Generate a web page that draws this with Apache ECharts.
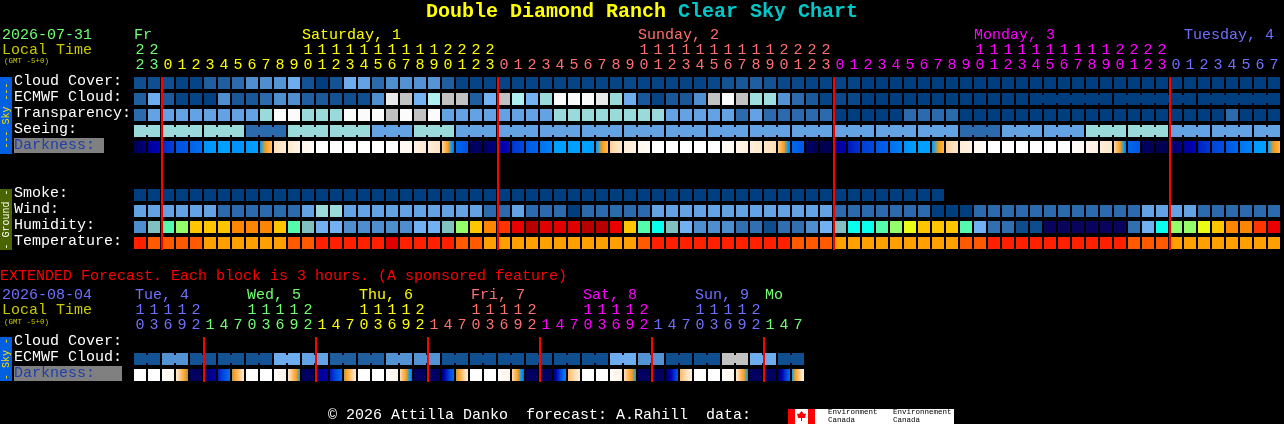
<!DOCTYPE html>
<html><head><meta charset="utf-8">
<style>html,body{margin:0;padding:0;background:#000}#c{width:1284px;height:424px}</style>
<script src="https://cdn.jsdelivr.net/npm/echarts@6/dist/echarts.min.js"></script>
</head><body><div id="c"></div>
<script>
// ---------- hourly forecast data (cloud-like rows in percent) ----------
const hourOnes = [2,3,0,1,2,3,4,5,6,7,8,9,0,1,2,3,4,5,6,7,8,9,0,1,2,3,0,1,2,3,4,5,6,7,8,9,0,1,2,3,4,5,6,7,8,9,0,1,2,3,0,1,2,3,4,5,6,7,8,9,0,1,2,3,4,5,6,7,8,9,0,1,2,3,0,1,2,3,4,5,6,7];
const hourTens = [2,2,'','','','','','','','','',''  ,1,1,1,1,1,1,1,1,1,1,2,2,2,2,'','','','','','','','','','',1,1,1,1,1,1,1,1,1,1,2,2,2,2,'','','','','','','','','','',1,1,1,1,1,1,1,1,1,1,2,2,2,2,'','','','','','','',''];
const rowNames = ['Cloud Cover:','ECMWF Cloud:','Transparency:','Seeing:','Darkness:','','','Smoke:','Wind:','Humidity:','Temperature:'];
const cloudCover = [8,8,8,3,3,15,15,20,30,30,33,45,10,0,10,45,40,20,30,32,32,
  33,15,3,3,3,3,3,3,3,3,3,3,3,3,5,3,3,3,3,3,5,10,12,15,10,5,5,3,3,3,3,
  0,0,0,0,0,0,0,0,0,0,0,0,0,0,0,0,0,0,0,0,0,0,0,0,0,0,0,0,0,0];
const ecmwfCloud = [15,45,13,3,3,1,30,12,12,20,30,30,15,13,10,8,8,30,90,80,48,
  70,80,80,15,48,80,70,48,60,98,97,98,90,60,45,12,3,12,12,30,80,98,80,62,62,32,20,13,3,5,5,
  0,0,0,0,0,0,0,0,0,0,0,0,0,0,0,0,0,0,0,0,0,0,0,0,0,0,0,0,0,0];
const ecmwfJoinFrom = 64;
const ecmwfBreakAfter = [69,75];
const transparency = [20,40,40,40,40,40,40,40,40,60,98,98,60,60,60,98,98,98,80,98,80,
  98,40,40,40,40,40,40,40,40,60,60,60,60,60,60,60,60,40,40,40,40,40,20,40,20,20,20,20,20,0,0,
  0,0,0,20,20,20,20,0,0,0,0,0,0,0,0,0,0,0,0,0,0,0,0,0,0,0,20,0,0,0];
const seeingBlockHours = [2,3,3,3,3,3,3,3,3,3,3,3,3,3,3,3,3,3,3,3,3,3,3,3,3,3,3,2];
const seeingBlockValues = [60,60,60,20,60,60,40,60,40,40,40,40,40,40,40,40,40,40,40,40,20,40,40,60,60,40,40,40];
const darkFrom = [9.2,8.3,7.3,6.6,6.3,5.3,5,5.3,5.2,5.1,2,1.5,.7,0,0,0,0,0,0,.4,1,
  1.2,2.2,6.2,9,9,8.2,7.2,6.5,6,5,5,5,5.1,2.4,1.3,.6,0,0,0,0,0,.3,.8,1.2,1.6,2.4,6.2,9,9.3,8.3,7.6,
  7,6.5,6,5.3,5,5.1,2.4,1.3,.6,0,0,0,0,0,0,.3,.8,1.2,2.2,6.2,9,9.3,8.9,8.2,7.5,6.9,6.5,5.9,5.1,5];
const darkTo = [8.6,7.9,7,6.5,6,5.1,5,5.2,5,2.7,1.2,.8,.3,0,0,0,0,0,0,.6,1.5,
  1.8,5.8,6.6,9,8.6,7.8,6.8,6.2,5.6,5,5,5,3,1.5,1,.3,0,0,0,0,0,.5,1.1,1.5,2,5.6,6.5,9.2,9.3,8,7.2,
  6.8,6.3,5.7,5,5,3.2,1.6,1,.3,0,0,0,0,0,0,.5,1.1,1.6,5.6,6.5,9.2,9.3,8.5,7.9,7.1,6.7,6.2,5.6,5,3];
const smoke = [0,0,0,0,0,0,0,0,0,0,0,0,0,0,0,0,0,0,0,0,0,0,0,0,0,0,0,0,0,0,0,0,0,0,0,0,0,0,0,0,0,0,0,0,0,0,0,0,0,0,0,0,0,0,0,0,0,0];
const wind = [40,40,40,40,40,40,20,20,20,20,20,20,40,60,60,40,40,40,40,40,40,
  40,40,40,40,20,20,40,20,20,20,0,20,20,20,20,20,40,40,40,40,40,40,40,40,40,40,40,40,40,20,20,
  20,20,20,20,20,0,0,0,20,20,20,20,20,20,20,20,20,20,20,20,40,40,40,40,20,20,20,20,20,20];
const humidity = [37,47,57,62,72,72,72,77,77,77,72,57,47,42,42,37,37,37,37,37,42,
  42,47,62,72,77,82,87,92,97,97,97,92,92,87,72,57,52,47,42,37,37,37,32,32,27,32,32,37,42,47,52,
  52,57,62,67,72,72,72,57,42,32,32,27,27,22,22,22,22,22,22,32,42,52,62,62,67,72,77,77,82,87];
const temperature = [27,22,22,22,22,17,17,17,17,17,17,22,22,27,27,27,27,27,32,27,27,
  27,27,22,22,17,17,17,17,17,17,17,17,17,17,17,22,27,27,27,27,27,27,27,27,27,27,22,22,22,17,17,
  17,17,17,17,17,17,17,22,22,27,27,27,27,27,27,27,27,27,27,22,22,22,17,17,17,17,17,17,17,17];
const hourMidnights = [2,26,50,74];

// ---------- extended forecast data (3-hour blocks) ----------
const extOnes = [0,3,6,9,2,1,4,7,0,3,6,9,2,1,4,7,0,3,6,9,2,1,4,7,0,3,6,9,2,1,4,7,0,3,6,9,2,1,4,7,0,3,6,9,2,1,4,7];
const extTens = [1,1,1,1,2,'','','',1,1,1,1,2,'','','',1,1,1,1,2,'','','',1,1,1,1,2,'','','',1,1,1,1,2,'','','',1,1,1,1,2,'','',''];
const extRowNames = ['Cloud Cover:','ECMWF Cloud:','Darkness:'];
const extCloudPairs = [10,32,10,10,10,45,40,15,15,32,32,10,8,8,8,8,8,45,32,8,8,80,45,8];
const extDarkFrom = [0,0,0,1.5,9,9,7.5,4.4,0,0,0,1.5,9,8.5,7.6,4.4,0,0,0,2,9,9,8.5,4.4,0,0,0,2,9,9,8.5,3,0,0,0,2,9,9,9,3,0,0,0,1.5,9,9,9,5];
const extDarkTo   = [0,0,.8,4.6,9,8,6,1.5,0,0,1,5,9,8,6,1.4,0,0,1,5.8,9,9,6,1.2,0,0,1,6,9,9,5.5,1.2,0,0,1.2,5,9,9,6.5,1,0,0,.8,5.2,9,9,6,1];
const extMidnights = [5,13,21,29,37,45];

// ---------- text ----------
const titleMain = 'Double Diamond Ranch';
const titleSub = 'Clear Sky Chart';
const dayNames = ['Fr','Saturday, 1','Sunday, 2','Monday, 3','Tuesday, 4'];
const dayCols = [0,12,36,60,75];
const extDayNames = ['Tue, 4','Wed, 5','Thu, 6','Fri, 7','Sat, 8','Sun, 9','Mo'];
const extDayCols = [0,8,16,24,32,40,45];
const startDate = '2026-07-31';
const extDate = '2026-08-04';
const localTime = 'Local Time';
const gmt = '(GMT -5+0)';
const extNote = 'EXTENDED Forecast. Each block is 3 hours. (A sponsored feature)';
const footer = '\u00a9 2026 Attilla Danko  forecast: A.Rahill  data:';

// ---------- palettes ----------
const cloudPalette = ['#003F7F','#135393','#2B6BAD','#4F8FCF','#63A3E3','#77B7F7','#9ADADA','#AEEEEE','#C2C2C2','#EAEAEA','#FFFFFF'];
const darkPalette = ['#ffffff','#fff2e2','#ffdfb8','#ffb860','#ff9a10','#00a0ff','#0070f0','#0040d8','#0000b0','#000060','#000030'];
const humidityPalette = ['#08035D','#0D4D8D','#3070B0','#4E8ECE','#71B1F1','#80C0C0','#09FEED','#55FAAD','#94FE6A','#EAFB16','#FEC600','#FC8602','#FE3401','#EA0000','#B70000','#E10000'];
const tempPalette = ['#FFA000','#FF5A00','#FF2000','#E00000'];
const dayColor = {fr:'#70ff70',sa:'#ffff00',su:'#ff7070',mo:'#ff00ff',tu:'#7070ff'};

// ---------- layout ----------
const FONT = '"Liberation Mono"';
const CW = 14, RH = 16, LEFT = 133;
const TOP1 = 75, TOP2 = 335;
const lerp = echarts.color.lerp;
const cloudColor = v => lerp(v/100, cloudPalette);
const humColor = v => humidityPalette[Math.floor((v-20)/5)];
const tempColor = v => tempPalette[Math.floor((v-15)/5)];

function cellRender(colorOf, gradient){
  return function(params, api){
    const c = api.value(0), r = api.value(1);
    const p = api.coord([c, r]);
    const sz = api.size([1, 1]);
    const w = sz[0]-2, h = sz[1]-4;
    let fill;
    if (gradient){
      const a = api.value(2), b = api.value(3), stops = [];
      for (let i=0;i<=8;i++){ stops.push({offset:i/8, color:lerp((a+(b-a)*i/8)/10, darkPalette)}); }
      fill = new echarts.graphic.LinearGradient(0,0,1,0,stops);
    } else fill = colorOf(api.value(2));
    const kids = [{type:'rect',shape:{x:p[0]-w/2,y:p[1]-h/2,width:w,height:h},style:{fill}}];
    if (!gradient && api.value(3)) kids.push({type:'rect',shape:{x:p[0]+w/2,y:p[1]-h/2+2,width:sz[0]-w,height:h-4},style:{fill}});
    return {type:'group',children:kids};
  };
}
function cells(name, xi, row, vals, colorOf, joinFn){
  const data = vals.map((v,c)=>[c,row,v,joinFn&&joinFn(c)?1:0]);
  return {type:'custom',name,xAxisIndex:xi,yAxisIndex:xi===0?0:1,data,encode:{x:0,y:1},clip:false,silent:true,
    renderItem:cellRender(colorOf,false),z:2};
}
function darkCells(name, xi, row, from, to){
  return {type:'custom',name,xAxisIndex:xi,yAxisIndex:xi===0?0:1,data:from.map((v,c)=>[c,row,v,to[c]]),encode:{x:0,y:1},clip:false,silent:true,
    renderItem:cellRender(null,true),z:2};
}
function midnightLines(xi, cols, lastRow){
  return {type:'custom',name:'midnight',xAxisIndex:xi,yAxisIndex:xi===0?0:1,data:cols.map(c=>[c,lastRow]),encode:{x:0,y:1},clip:false,silent:true,z:5,
    renderItem(params,api){
      const c = api.value(0);
      const a = api.coord([c,0]), b = api.coord([c,api.value(1)]);
      const sz = api.size([1,1]);
      return {type:'rect',shape:{x:a[0]-sz[0]/2,y:a[1]-sz[1]/2+2,width:2,height:b[1]-a[1]+sz[1]-3},style:{fill:'#ff0000'}};
    }};
}
// expand seeing blocks to hours
const seeing = [], seeingJoin = [];
seeingBlockHours.forEach((n,i)=>{ for(let k=0;k<n;k++){ seeing.push(seeingBlockValues[i]); seeingJoin.push(k<n-1); } });
const extCloud = [], extJoin = [];
extCloudPairs.forEach(v=>{ extCloud.push(v,v); extJoin.push(true,false); });

[['ones',hourOnes,82],['tens',hourTens,82],['cloud',cloudCover,82],['ecmwf',ecmwfCloud,82],['trans',transparency,82],['seeing',seeing,82],['df',darkFrom,82],['dt',darkTo,82],['wind',wind,82],['hum',humidity,82],['temp',temperature,82],['eo',extOnes,48],['et',extTens,48],['ec',extCloud,48],['edf',extDarkFrom,48],['edt',extDarkTo,48]]
 .forEach(a=>{ if(a[1].length!==a[2]) throw new Error('len '+a[0]+' '+a[1].length); });

function hourColor(i){ return i<2?dayColor.fr : i<26?dayColor.sa : i<50?dayColor.su : i<74?dayColor.mo : dayColor.tu; }
const extColors = [dayColor.tu,dayColor.fr,dayColor.sa,dayColor.su,dayColor.mo,dayColor.tu,dayColor.fr];
function extColor(i){ return extColors[Math.floor((i+3)/8)]; }

function xAx(gridIndex,data,colorFn,offset){
  return {type:'category',gridIndex,position:'top',offset,data:data.map(String),boundaryGap:true,
    axisLine:{show:false},axisTick:{show:false},splitLine:{show:false},
    axisLabel:{show:true,interval:0,margin:2,fontFamily:FONT,fontSize:15,color:(v,i)=>colorFn(i),hideOverlap:false}};
}
function yAx(gridIndex,names,marg){
  return {type:'category',gridIndex,inverse:true,
    data:names.map(n=> n==='Darkness:' ? {value:n,textStyle:{color:'#2040a8',align:'left',verticalAlign:'bottom',lineHeight:3,fontFamily:FONT,fontSize:15}} : n),
    axisLine:{show:false},axisTick:{show:false},splitLine:{show:false},
    axisLabel:{show:true,interval:0,margin:marg,align:'left',verticalAlign:'bottom',lineHeight:3,color:'#ffffff',fontFamily:FONT,fontSize:15}};
}

// ---------- free text / decoration ----------
function T(text,x,y,fill,size,weight,extra){
  return Object.assign({type:'text',x,y,silent:true,style:{text,fill,font:(weight||'normal')+' '+size+'px '+FONT,verticalAlign:'middle',align:'left'}},extra||{});
}
function R(x,y,w,h,fill,z){ return {type:'rect',silent:true,z:z||0,shape:{x,y,width:w,height:h},style:{fill}}; }
function V(text,cx,cy,fill){ return {type:'text',x:cx,y:cy,rotation:Math.PI/2,silent:true,style:{text,fill,font:'10px '+FONT,align:'center',verticalAlign:'middle'}}; }
const dayNameColors = [dayColor.fr,dayColor.sa,dayColor.su,dayColor.mo,dayColor.tu];
const gfx = [
  R(14,138,90,15,'#808080',-1),
  R(14,366,108,15,'#808080',-1),
  T(titleMain,426,12,'#ffff00',20,'bold'),
  T(titleSub,678,12,'#00c8c8',20,'bold'),
  T(startDate,2,35,'#70ff70',15),
  T(localTime,2,50,'#c8c800',15),
  T(gmt,4,61.5,'#c8c800',7.5),
  T(extNote,0,276,'#ff0000',15),
  T(extDate,2,295,'#7070ff',15),
  T(localTime,2,310,'#c8c800',15),
  T(gmt,4,322,'#c8c800',7.5),
  T(footer,328,415,'#ffffff',15),
  R(0,77,12,77,'#0060e0'), V('--- Sky ---',6,115.5,'#ffe000'),
  R(0,189,12,61,'#4a6400'), V('- Ground -',6,219.5,'#ffffff'),
  R(0,337,12,44,'#0060e0'), V('- Sky -',6,359,'#ffe000'),
  // Environment Canada logo
  R(788,409,166,15,'#ffffff'),
  R(788,409,7,15,'#ff0000'), R(808,409,7,15,'#ff0000'),
  {type:'polygon',silent:true,shape:{points:[[801.5,411],[804,414],[806,413.5],[805,418],[802,418],[802,421],[801,421],[801,418],[798,418],[797,413.5],[799,414]]},style:{fill:'#ff0000'}},
  T('Environment',828,412.5,'#000000',7.5), T('Canada',828,420,'#000000',7.5),
  T('Environnement',893,412.5,'#000000',7.5), T('Canada',893,420,'#000000',7.5)
];
dayNames.forEach((d,i)=>gfx.push(T(d,LEFT+1+dayCols[i]*CW,35,dayNameColors[i],15)));
extDayNames.forEach((d,i)=>gfx.push(T(d,LEFT+2+extDayCols[i]*CW,295,extColors[i],15)));

const chart = echarts.init(document.getElementById('c'),null,{renderer:'canvas'});
chart.setOption({
  backgroundColor:'#000000',animation:false,tooltip:{show:false},legend:{show:false},
  grid:[
    {left:LEFT,top:TOP1,width:82*CW,height:11*RH,containLabel:false,outerBoundsMode:'none'},
    {left:LEFT,top:TOP2,width:48*CW,height:3*RH,containLabel:false,outerBoundsMode:'none'}
  ],
  xAxis:[
    xAx(0,hourOnes,hourColor,0),
    xAx(0,hourTens,hourColor,15),
    xAx(1,extOnes,extColor,0),
    xAx(1,extTens,extColor,15)
  ],
  yAxis:[ yAx(0,rowNames,119), yAx(1,extRowNames,119) ],
  series:[
    cells('Cloud Cover',0,0,cloudCover,cloudColor),
    cells('ECMWF Cloud',0,1,ecmwfCloud,cloudColor,c=>c>=ecmwfJoinFrom&&c<81&&!ecmwfBreakAfter.includes(c)),
    cells('Transparency',0,2,transparency,cloudColor),
    cells('Seeing',0,3,seeing,cloudColor,c=>seeingJoin[c]),
    darkCells('Darkness',0,4,darkFrom,darkTo),
    cells('Smoke',0,7,smoke,cloudColor),
    cells('Wind',0,8,wind,cloudColor),
    cells('Humidity',0,9,humidity,humColor),
    cells('Temperature',0,10,temperature,tempColor),
    midnightLines(0,hourMidnights,10),
    cells('ECMWF Cloud ext',2,1,extCloud,cloudColor,c=>extJoin[c]),
    darkCells('Darkness ext',2,2,extDarkFrom,extDarkTo),
    midnightLines(2,extMidnights,2)
  ],
  graphic:gfx
});
</script></body></html>
